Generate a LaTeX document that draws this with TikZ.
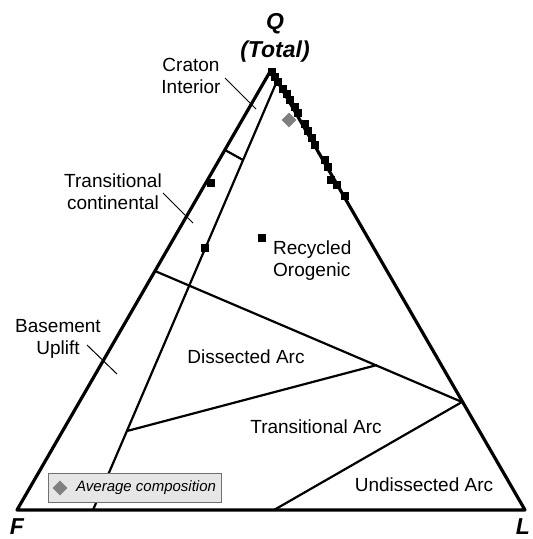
\documentclass[tikz,border=0pt]{standalone}
\usepackage{fontspec}
\setmainfont{Liberation Sans}
\usetikzlibrary{shapes.geometric}
\definecolor{avggray}{HTML}{808080}
\definecolor{boxfill}{HTML}{E6E6E6}
\definecolor{boxline}{HTML}{707070}
\tikzset{
  edgeline/.style={line width=3.2pt, line join=round, line cap=round},
  boundline/.style={line width=2.2pt},
  ptrline/.style={line width=1pt},
  lbl/.style={font=\fontsize{19}{22}\selectfont, align=center, inner sep=0pt},
  poles/.style={font=\fontsize{23}{28}\selectfont\bfseries\itshape, align=center, inner sep=0pt},
  datapt/.style={rectangle, fill=black, minimum size=8pt, inner sep=0pt},
  avgpt/.style={diamond, fill=avggray, minimum width=15pt, minimum height=15pt, inner sep=0pt},
  legendbox/.style={rectangle, draw=boxline, fill=boxfill, line width=1pt}
}
\begin{document}
\begin{tikzpicture}[x=1pt,y=-1pt]
\useasboundingbox (0,0) rectangle (533,539);
% vertices
\coordinate (Q) at (271,70);
\coordinate (F) at (17,510);
\coordinate (L) at (525,510);
% boundary points
\coordinate (inTop) at (277,81);
\coordinate (inBot) at (93,510);
\coordinate (ciL) at (225,150);
\coordinate (ciR) at (243,160);
\coordinate (roL) at (155,271);
\coordinate (roR) at (462,402);
\coordinate (daL) at (127,431);
\coordinate (daR) at (377,365);
\coordinate (uaB) at (274,510);
% pointer ends
\coordinate (c1a) at (225,78);  \coordinate (c1b) at (256,109);
\coordinate (c2a) at (163,193); \coordinate (c2b) at (193,223);
\coordinate (c3a) at (87,345);  \coordinate (c3b) at (117,374);

% boundaries
\draw[boundline] (inTop) -- (inBot);
\draw[boundline] (ciL) -- (ciR);
\draw[boundline] (roL) -- (roR);
\draw[boundline] (daL) -- (daR);
\draw[boundline] (roR) -- (uaB);
% triangle
\draw[edgeline] (Q) -- (F) -- (L) -- cycle;
% pointers
\draw[ptrline] (c1a) -- (c1b);
\draw[ptrline] (c2a) -- (c2b);
\draw[ptrline] (c3a) -- (c3b);

% labels
\node[poles] (lQ) at (275,38) {Q\\(Total)};
\node[poles] (lF) at (17,527) {F};
\node[poles] (lL) at (523,527) {L};
\node[lbl] (tCI) at (191,76) {Craton\\Interior};
\node[lbl] (tTC) at (113,192) {Transitional\\continental};
\node[lbl] (tBU) at (58,339) {Basement\\Uplift};
\node[lbl, align=left, anchor=west] (tRO) at (273,261) {Recycled\\Orogenic};
\node[lbl] (tDA) at (246,357) {Dissected Arc};
\node[lbl] (tTA) at (316,427) {Transitional Arc};
\node[lbl] (tUA) at (424,485) {Undissected Arc};

% data points
\foreach \px/\py [count=\i] in {272/72,275/77,278/82,283/89,287/94,290/100,295/107,298/113,
  305/124,308/131,312/138,315/145,325/160,328/167,331/180,337/185,345/196,
  211/183,205/248,262/238}
  \node[datapt] (p\i) at (\px,\py) {};
\node[avgpt] (avg) at (289,120) {};

% legend
\node[legendbox, minimum width=173pt, minimum height=29pt] (leg) at (134.5,487.5) {};
\node[avgpt] (legd) at (60,488) {};
\node[font=\fontsize{15}{18}\selectfont\itshape, anchor=west, inner sep=0pt] (legt) at (76,488) {Average composition};
\end{tikzpicture}
\end{document}
